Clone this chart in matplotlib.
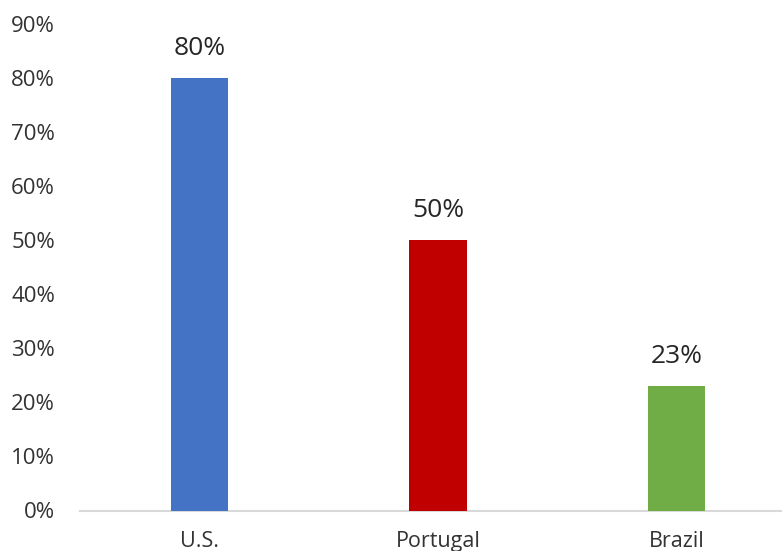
import matplotlib
matplotlib.use("Agg")
import matplotlib.pyplot as plt
from matplotlib.ticker import PercentFormatter, MultipleLocator

countries = ["U.S.", "Portugal", "Brazil"]
shares = [80, 50, 23]
bar_colors = ["#4472C4", "#C00000", "#70AD47"]

plt.rcParams["font.family"] = ["Open Sans", "DejaVu Sans"]

W, H = 782, 551
fig = plt.figure(figsize=(W / 100, H / 100), dpi=100)
left, right = 80 / W, 796 / W
bottom, top = 1 - 510.5 / H, 1 - 24 / H
ax = fig.add_axes([left, bottom, right - left, top - bottom])

x = range(len(countries))
bars = ax.bar(x, shares, width=0.24, color=bar_colors, zorder=3)

for b, v in zip(bars, shares):
    ax.text(b.get_x() + b.get_width() / 2, v + 3.2, f"{v}%",
            ha="center", va="bottom", fontsize=19, color="#262626")

ax.set_xlim(-0.5, len(countries) - 0.5)
ax.set_ylim(0, 90)
ax.yaxis.set_major_locator(MultipleLocator(10))
ax.yaxis.set_major_formatter(PercentFormatter(decimals=0))
ax.set_xticks(list(x))
ax.set_xticklabels(countries)

for s in ["top", "right", "left"]:
    ax.spines[s].set_visible(False)
ax.spines["bottom"].set_color("#D9D9D9")
ax.spines["bottom"].set_linewidth(1.5)
ax.tick_params(axis="both", length=0, colors="#333333")
ax.tick_params(axis="y", labelsize=16, pad=18)
ax.tick_params(axis="x", labelsize=15.5, pad=15)

fig.savefig("out.png", dpi=100)
